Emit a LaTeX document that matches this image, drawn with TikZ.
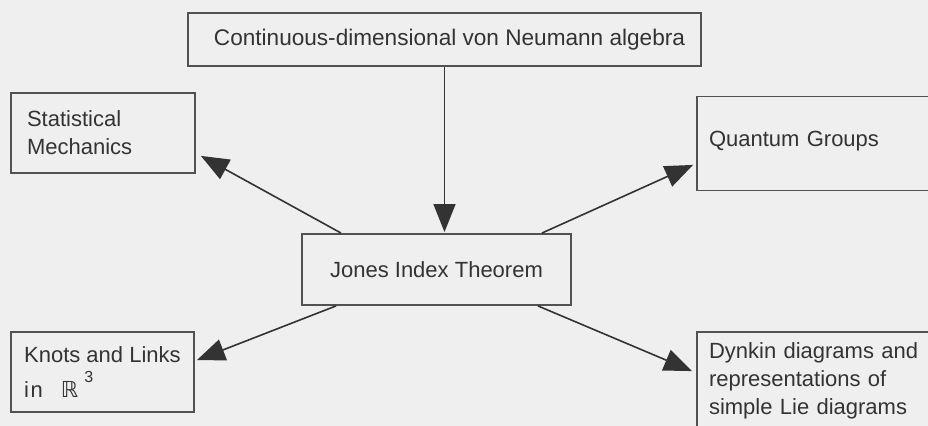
\documentclass[tikz,border=0pt]{standalone}
\usepackage{fontspec}
\setmainfont{Liberation Sans}
\newfontfamily\dejavu{DejaVu Sans}
\definecolor{paper}{HTML}{EFEFEF}
\definecolor{ink}{HTML}{333333}
\usetikzlibrary{arrows.meta,positioning,calc}

\tikzset{
  box/.style={draw=ink!85,line width=0.9pt,rectangle,inner ysep=0pt,
    text=ink,font=\fontsize{11}{14}\selectfont},
  arr/.style={draw=ink,line width=0.8pt,-{Triangle[length=14pt,width=11pt]}}
}

\begin{document}
\begin{tikzpicture}[x=0.5pt,y=-0.5pt]
    % Page and background
    \clip (0,0) rectangle (928,426);
    \fill[paper] (0,0) rectangle (928,426);

    % Boxes
    \node[box,minimum width=256.5pt,minimum height=26.5pt,
      font=\fontsize{11.3}{14}\selectfont] (cvn) at (444.5,39.5)
      {\hspace{5pt}Continuous-dimensional von Neumann algebra};
    \node[box,minimum width=134.5pt,minimum height=35.5pt] (jones) at (436.5,269.5)
      {Jones Index Theorem};
    \node[box,text width=76pt,inner xsep=8pt,align=left,minimum height=40pt]
      (statmech) at (103,132.7) {Statistical\\Mechanics};
    \node[box,align=left,minimum width=91.6pt,minimum height=40pt]
      (knots) at (102.4,372)
      {Knots and Links\\[3.5pt]i\kern0.8pt n\hspace{9pt}{\dejavu ℝ}\kern3pt\raisebox{7.5pt}{\fontsize{8}{8}\selectfont 3}};
    \node[box,text width=128pt,inner xsep=6pt,align=left,minimum height=47pt,
      text height=8pt,text depth=5pt] (qgroups) at (837,143.5) {Quantum Groups};
    \node[box,text width=128pt,inner xsep=6pt,align=left,minimum height=48.5pt]
      (dynkin) at (837,380.5)
      {Dynkin diagrams and\\representations of\\simple Lie diagrams};

    % Arrows out of the index theorem
    \draw[arr] (cvn.south) -- ($(cvn.south |- jones.north)+(0,-1)$);
    \draw[arr] ($(jones.north west)+(40,0)$) -- ($(statmech.south east)+(5,-17.7)$);
    \draw[arr] ($(jones.north east)+(-30,0)$) -- ($(qgroups.south west)+(-3,-26.5)$);
    \draw[arr] ($(jones.south west)+(35,0)$) -- ($(knots.north east)+(2,29)$);
    \draw[arr] ($(jones.south east)+(-34,0)$) -- ($(dynkin.north west)+(-4,40)$);
  \end{tikzpicture}
\end{document}
